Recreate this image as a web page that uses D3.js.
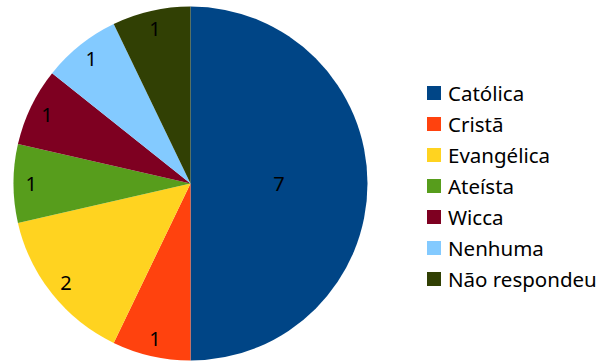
<!DOCTYPE html>
<html>
<head>
<meta charset="utf-8">
<script src="https://cdn.jsdelivr.net/npm/d3@7"></script>
<style>
  html, body { margin: 0; padding: 0; background: #fff; }
  svg { display: block; }
  text { font-family: "Noto Sans", "Open Sans", sans-serif; fill: #000; }
</style>
</head>
<body>
<svg id="chart" width="602" height="362"></svg>
<script>
// Religion of respondents (counts)
const categories = ["Católica", "Cristã", "Evangélica", "Ateísta", "Wicca", "Nenhuma", "Não respondeu"];
const values = [7, 1, 2, 1, 1, 1, 1];
const colors = ["#004586", "#ff420e", "#ffd320", "#579d1c", "#7e0021", "#83caff", "#314004"];

const data = categories.map((c, i) => ({ name: c, value: values[i] }));

const svg = d3.select("#chart");
const cx = 190.5, cy = 183.5, radius = 177;

const color = d3.scaleOrdinal().domain(categories).range(colors);

const pie = d3.pie().value(d => d.value).sort(null);
const arcs = pie(data);

const arc = d3.arc().innerRadius(0).outerRadius(radius);

const g = svg.append("g").attr("transform", `translate(${cx},${cy})`);

g.selectAll("path.slice")
  .data(arcs)
  .join("path")
  .attr("class", "slice")
  .attr("d", arc)
  .attr("fill", d => color(d.data.name));

// Value labels: large slices get a centred label, small ones sit near the rim
const innerLabelArc = d3.arc().innerRadius(radius * 0.5).outerRadius(radius * 0.5);
const rimLabelArc = d3.arc().innerRadius(radius * 0.9).outerRadius(radius * 0.9);

g.selectAll("text.value")
  .data(arcs)
  .join("text")
  .attr("class", "value")
  .attr("transform", d => {
    const big = (d.endAngle - d.startAngle) > Math.PI / 2;
    const [x, y] = (big ? innerLabelArc : rimLabelArc).centroid(d);
    return `translate(${x},${y})`;
  })
  .attr("text-anchor", "middle")
  .attr("dominant-baseline", "central")
  .style("font-size", "20px")
  .text(d => d.data.value);

// Legend
const legend = svg.append("g").attr("transform", "translate(427,93)");
const rowH = 31;

const rows = legend.selectAll("g.row")
  .data(categories)
  .join("g")
  .attr("class", "row")
  .attr("transform", (d, i) => `translate(0,${i * rowH})`);

rows.append("rect")
  .attr("x", 0)
  .attr("y", -7)
  .attr("width", 14)
  .attr("height", 14)
  .attr("fill", d => color(d));

rows.append("text")
  .attr("x", 21)
  .attr("y", 0)
  .attr("dominant-baseline", "central")
  .style("font-size", "20.5px")
  .text(d => d);
</script>
</body>
</html>
